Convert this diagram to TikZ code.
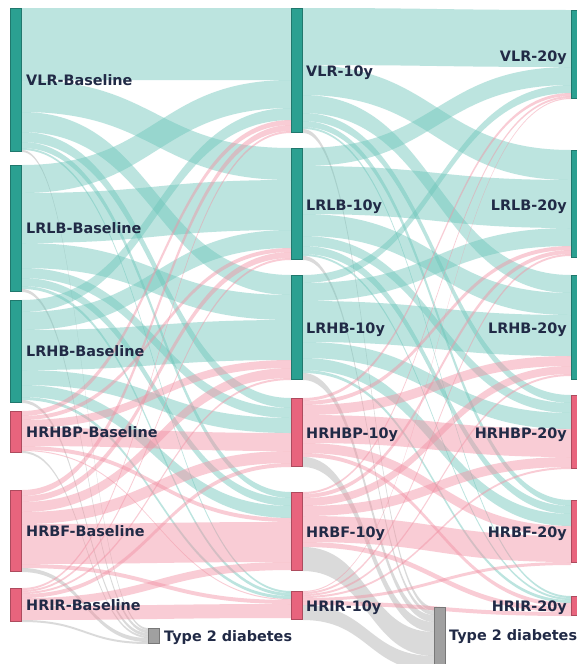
\documentclass[tikz,border=0pt]{standalone}
\usepackage{fontspec}
\setmainfont{DejaVu Sans}
\definecolor{tealbar}{RGB}{43,160,145}
\definecolor{pinkbar}{RGB}{232,100,125}
\definecolor{graybar}{RGB}{160,160,160}
\definecolor{ft}{RGB}{108,197,186}
\definecolor{fp}{RGB}{242,144,162}
\definecolor{fg}{RGB}{175,175,175}
\definecolor{navy}{RGB}{33,42,70}
\tikzset{
  bar/.style={rectangle, inner sep=0pt, minimum width=11.5pt, line width=0.7pt},
  lab/.style={font=\bfseries\fontsize{14.4}{16}\selectfont, text=navy, inner sep=0pt, text height=10.5pt, text depth=0pt},
  flowfill/.style={fill opacity=0.45, draw=none}
}
% node data: name, x left, x right, top, height
\newcommand\defnode[5]{%
  \expandafter\xdef\csname xl#1\endcsname{#2}%
  \expandafter\xdef\csname xr#1\endcsname{#3}%
  \expandafter\xdef\csname top#1\endcsname{#4}%
  \expandafter\xdef\csname ht#1\endcsname{#5}%
  \expandafter\xdef\csname out#1\endcsname{0}%
  \expandafter\xdef\csname in#1\endcsname{0}%
}
% one flow: source, target, width, colour
\newcommand\fl[4]{%
  \pgfmathsetmacro\ya{\csname top#1\endcsname+\csname out#1\endcsname}%
  \pgfmathsetmacro\yb{\csname top#2\endcsname+\csname in#2\endcsname}%
  \pgfmathsetmacro\xa{\csname xr#1\endcsname}%
  \pgfmathsetmacro\xb{\csname xl#2\endcsname}%
  \pgfmathsetmacro\xm{(\xa+\xb)/2}%
  \pgfmathsetmacro\yaa{\ya+#3}%
  \pgfmathsetmacro\ybb{\yb+#3}%
  \fill[flowfill, fill=#4] (\xa,\ya) .. controls (\xm,\ya) and (\xm,\yb) .. (\xb,\yb)
     -- (\xb,\ybb) .. controls (\xm,\ybb) and (\xm,\yaa) .. (\xa,\yaa) -- cycle;
  \pgfmathsetmacro\tmpv{\csname out#1\endcsname+#3}%
  \expandafter\xdef\csname out#1\endcsname{\tmpv}%
  \pgfmathsetmacro\tmpv{\csname in#2\endcsname+#3}%
  \expandafter\xdef\csname in#2\endcsname{\tmpv}%
}
\newcommand\flrow[2]{\foreach \tgt/\wid/\col in {#2}{\fl{#1}{\tgt}{\wid}{\col}}}
\newcommand\barnode[2]{%
  \pgfmathsetmacro\bx{(\csname xl#1\endcsname+\csname xr#1\endcsname)/2}%
  \pgfmathsetmacro\by{\csname top#1\endcsname+\csname ht#1\endcsname/2}%
  \pgfmathsetmacro\bh{\csname ht#1\endcsname-0.7}%
  \node[bar, fill=#2, draw=#2!75!black, minimum height=\bh pt] (#1) at (\bx,\by) {};
}
\begin{document}
\begin{tikzpicture}[x=1pt,y=-1pt]
\useasboundingbox (0,0) rectangle (577,664);
\clip (0,0) rectangle (577,664);
\fill[white] (0,0) rectangle (577,664);
% column 1
\defnode{VB}{10}{22}{8}{144}
\defnode{LB}{10}{22}{165}{127}
\defnode{HB}{10}{22}{300}{103}
\defnode{PB}{10}{22}{411}{42}
\defnode{FB}{10}{22}{490}{82}
\defnode{IB}{10}{22}{588}{34}
% column 2
\defnode{V1}{291}{303}{8}{125}
\defnode{L1}{291}{303}{148}{112}
\defnode{H1}{291}{303}{275}{105}
\defnode{P1}{291}{303}{398}{69}
\defnode{F1}{291}{303}{492}{79}
\defnode{I1}{291}{303}{591}{29}
\defnode{T1}{148}{160}{628}{16}
% column 3
\defnode{V2}{571}{583}{10}{89}
\defnode{L2}{571}{583}{150}{108}
\defnode{H2}{571}{583}{275}{105}
\defnode{P2}{571}{583}{395}{74}
\defnode{F2}{571}{583}{500}{63}
\defnode{I2}{571}{583}{596}{20}
\defnode{T2}{434}{446}{607}{60}
% flows baseline -> 10y
\flrow{VB}{V1/72/ft,L1/32/ft,H1/20/ft,P1/10/ft,F1/6/ft,I1/2/ft,T1/2/fg}
\flrow{LB}{V1/28/ft,L1/50/ft,H1/25/ft,P1/10/ft,F1/8/ft,I1/3/ft,T1/3/fg}
\flrow{HB}{V1/12/ft,L1/18/ft,H1/40/ft,P1/15/ft,F1/12/ft,I1/3/ft,T1/3/fg}
\flrow{PB}{V1/5/fp,L1/4/fp,H1/8/fp,P1/18/fp,F1/4/fp,I1/1/fp,T1/2/fg}
\flrow{FB}{V1/6/fp,L1/6/fp,H1/10/fp,P1/12/fp,F1/40/fp,I1/4/fp,T1/4/fg}
\flrow{IB}{V1/2/fp,L1/2/fp,H1/2/fp,P1/4/fp,F1/8/fp,I1/14/fp,T1/2/fg}
% flows 10y -> 20y
\flrow{V1}{V2/57/ft,L2/30/ft,H2/18/ft,P2/8/ft,F2/6/ft,I2/2/ft,T2/4/fg}
\flrow{L1}{V2/18/ft,L2/48/ft,H2/22/ft,P2/10/ft,F2/8/ft,I2/2/ft,T2/4/fg}
\flrow{H1}{V2/8/ft,L2/18/ft,H2/41/ft,P2/16/ft,F2/12/ft,I2/3/ft,T2/7/fg}
\flrow{P1}{V2/3/fp,L2/4/fp,H2/10/fp,P2/28/fp,F2/10/fp,I2/4/fp,T2/10/fg}
\flrow{F1}{V2/2/fp,L2/4/fp,H2/8/fp,P2/10/fp,F2/26/fp,I2/5/fp,T2/24/fg}
\flrow{I1}{V2/1/fp,L2/2/fp,H2/2/fp,P2/2/fp,F2/3/fp,I2/4/fp,T2/15/fg}
% bars
\barnode{VB}{tealbar}\barnode{LB}{tealbar}\barnode{HB}{tealbar}
\barnode{PB}{pinkbar}\barnode{FB}{pinkbar}\barnode{IB}{pinkbar}
\barnode{V1}{tealbar}\barnode{L1}{tealbar}\barnode{H1}{tealbar}
\barnode{P1}{pinkbar}\barnode{F1}{pinkbar}\barnode{I1}{pinkbar}
\barnode{V2}{tealbar}\barnode{L2}{tealbar}\barnode{H2}{tealbar}
\barnode{P2}{pinkbar}\barnode{F2}{pinkbar}\barnode{I2}{pinkbar}
\barnode{T1}{graybar}\barnode{T2}{graybar}
% labels
\node[lab, anchor=west] (lVB) at (26,80) {VLR-Baseline};
\node[lab, anchor=west] (lLB) at (26,228.5) {LRLB-Baseline};
\node[lab, anchor=west] (lHB) at (26,351.5) {LRHB-Baseline};
\node[lab, anchor=west] (lPB) at (26,432) {HRHBP-Baseline};
\node[lab, anchor=west] (lFB) at (26,531) {HRBF-Baseline};
\node[lab, anchor=west] (lIB) at (26,605) {HRIR-Baseline};
\node[lab, anchor=west] (lV1) at (306,71) {VLR-10y};
\node[lab, anchor=west] (lL1) at (306,205) {LRLB-10y};
\node[lab, anchor=west] (lH1) at (306,328) {LRHB-10y};
\node[lab, anchor=west] (lP1) at (306,433) {HRHBP-10y};
\node[lab, anchor=west] (lF1) at (306,532) {HRBF-10y};
\node[lab, anchor=west] (lI1) at (306,606) {HRIR-10y};
\node[lab, anchor=east] (lV2) at (567,56) {VLR-20y};
\node[lab, anchor=east] (lL2) at (567,205) {LRLB-20y};
\node[lab, anchor=east] (lH2) at (567,328) {LRHB-20y};
\node[lab, anchor=east] (lP2) at (567,433) {HRHBP-20y};
\node[lab, anchor=east] (lF2) at (567,532) {HRBF-20y};
\node[lab, anchor=east] (lI2) at (567,606) {HRIR-20y};
\node[lab, anchor=west] (lT1) at (164,636) {Type 2 diabetes};
\node[lab, anchor=west] (lT2) at (449,635) {Type 2 diabetes};
\end{tikzpicture}
\end{document}
